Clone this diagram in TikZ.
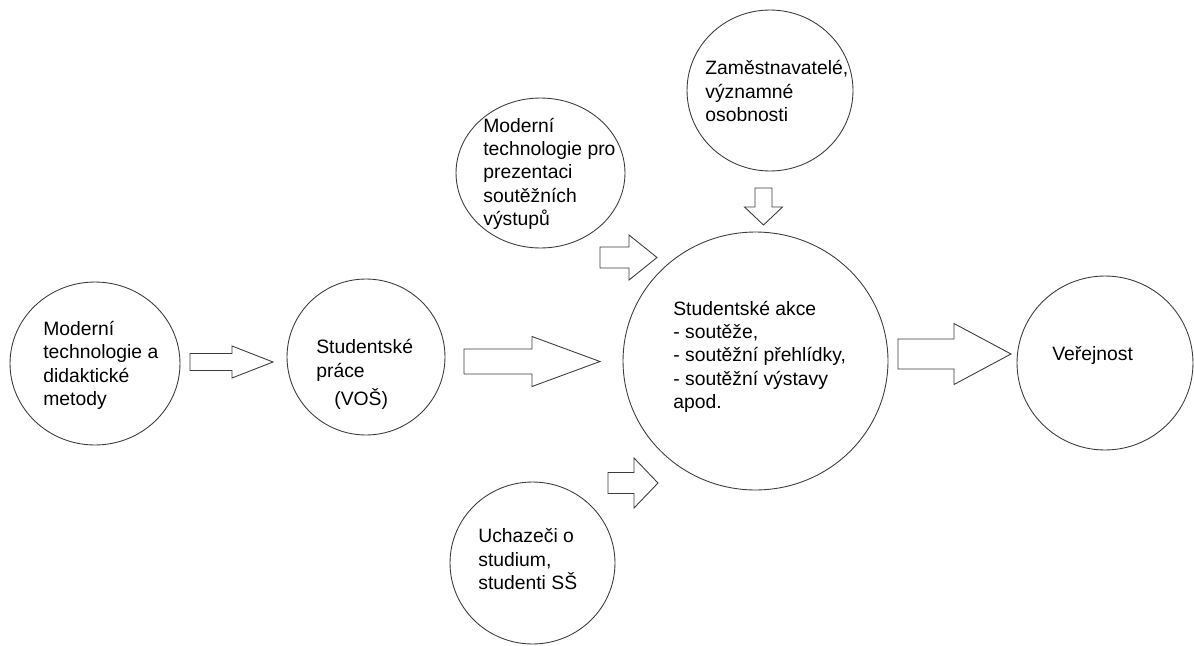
\documentclass[tikz,border=0pt]{standalone}
\usepackage{fontspec}
\setmainfont{Liberation Sans}
\usepackage{tikz}
\usetikzlibrary{shapes,calc}
\usepackage{xcolor}
\definecolor{lineGray}{RGB}{60,60,60}
\tikzstyle{bubble} = [ellipse, draw=lineGray, line width=0.5pt, inner sep=0pt, fill=white]
\tikzstyle{bubbletext} = [anchor=base west, inner sep=0pt, align=left, font=\fontsize{11}{13.3}\selectfont]
\tikzstyle{blockarr} = [draw=lineGray, line width=0.5pt, fill=white, line join=miter]
% tail, tip, shaft half width, head half width, head length (in px)
\newcommand{\blockarrow}[5]{%
  \coordinate (ab) at ($(#2)!#5*0.02cm!(#1)$);
  \draw[blockarr] ($(#1)!#3*0.02cm!90:(#2)$) -- ($(ab)!#3*0.02cm!90:(#2)$)
    -- ($(ab)!#4*0.02cm!90:(#2)$) -- (#2) -- ($(ab)!#4*0.02cm!-90:(#2)$)
    -- ($(ab)!#3*0.02cm!-90:(#2)$) -- ($(#1)!#3*0.02cm!-90:(#2)$) -- cycle;}

\begin{document}
\begin{tikzpicture}[x=0.02cm, y=-0.02cm]
\useasboundingbox (0,0) rectangle (1194,646);

% Circles
\node[bubble, minimum width=3.4cm, minimum height=3.26cm] (tech) at (95,363.5) {};
\node[bubble, minimum width=3.16cm, minimum height=3.12cm] (prace) at (366,357) {};
\node[bubble, minimum width=3.38cm, minimum height=3.0cm] (prez) at (540.5,173) {};
\node[bubble, minimum width=3.32cm, minimum height=3.22cm] (zam) at (770,90.5) {};
\node[bubble, minimum width=5.3cm, minimum height=5.16cm] (akce) at (755.5,361) {};
\node[bubble, minimum width=3.3cm, minimum height=3.24cm] (uch) at (532.5,563) {};
\node[bubble, minimum width=3.52cm, minimum height=3.48cm] (pub) at (1105,363) {};

% Texts (placed at the baseline of their last line)
\node[bubbletext] (techtxt) at (43,405.5) {Moderní\\technologie a\\didaktické\\metody};
\node[bubbletext] (pracetxt) at (316,405.5) {Studentské\\práce\\[2.8pt]\hspace*{0.36cm}(VOŠ)};
\node[bubbletext] (preztxt) at (483,225.5) {Moderní\\technologie pro\\prezentaci\\soutěžních\\výstupů};
\node[bubbletext] (zamtxt) at (705,121.5) {Zaměstnavatelé,\\významné\\osobnosti};
\node[bubbletext] (akcetxt) at (673,408.5) {Studentské akce\\- soutěže,\\- soutěžní přehlídky,\\- soutěžní výstavy\\apod.};
\node[bubbletext] (uchtxt) at (478,589.5) {Uchazeči o\\studium,\\studenti SŠ};
\node[bubbletext] (pubtxt) at (1052,360) {Veřejnost};

% Block arrows
\coordinate (a1s) at (190,362); \coordinate (a1e) at (273,362);
\coordinate (a2s) at (464,361.5); \coordinate (a2e) at (600,361.5);
\coordinate (a3s) at (600,257.5); \coordinate (a3e) at (657,257.5);
\coordinate (a4s) at (763.5,188); \coordinate (a4e) at (763.5,225);
\coordinate (a5s) at (608,483); \coordinate (a5e) at (658,483);
\coordinate (a6s) at (898,354); \coordinate (a6e) at (1011,354);
\blockarrow{a1s}{a1e}{8.5}{16}{41}
\blockarrow{a2s}{a2e}{12.5}{25}{68}
\blockarrow{a3s}{a3e}{10.5}{22.5}{28}
\blockarrow{a4s}{a4e}{8.5}{19}{18}
\blockarrow{a5s}{a5e}{10.5}{25}{24}
\blockarrow{a6s}{a6e}{15}{30.5}{57}
\end{tikzpicture}
\end{document}
